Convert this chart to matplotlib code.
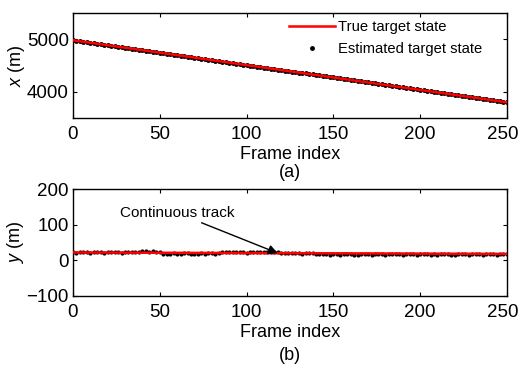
import matplotlib
matplotlib.use("Agg")
import matplotlib.pyplot as plt
from matplotlib.transforms import ScaledTranslation

plt.rcParams['font.family'] = ['Liberation Sans', 'DejaVu Sans']
plt.rcParams['mathtext.fontset'] = 'custom'
plt.rcParams['mathtext.it'] = 'Liberation Sans:italic'
plt.rcParams['mathtext.rm'] = 'Liberation Sans'

# True target state (constant-velocity track endpoints)
true_frames = [0, 250]
true_x = [4980, 3800]
true_y = [22, 18]

# Estimated target state, every 2 frames
est_frames = list(range(0, 251, 2))
est_x = [4980, 4972, 4960, 4953, 4941, 4934, 4922, 4915, 4903, 4896,
         4885, 4877, 4866, 4858, 4847, 4839, 4828, 4821, 4809, 4802,
         4790, 4783, 4771, 4764, 4752, 4745, 4734, 4726, 4715, 4707,
         4696, 4688, 4677, 4669, 4658, 4651, 4639, 4632, 4620, 4613,
         4601, 4594, 4583, 4575, 4564, 4556, 4545, 4537, 4526, 4518,
         4507, 4500, 4488, 4481, 4469, 4462, 4450, 4443, 4431, 4424,
         4413, 4405, 4394, 4386, 4375, 4367, 4356, 4349, 4337, 4330,
         4318, 4311, 4299, 4292, 4280, 4273, 4262, 4254, 4243, 4235,
         4224, 4216, 4205, 4197, 4186, 4179, 4167, 4160, 4148, 4141,
         4129, 4122, 4111, 4103, 4092, 4084, 4073, 4065, 4054, 4046,
         4035, 4028, 4016, 4009, 3997, 3990, 3978, 3971, 3960, 3952,
         3941, 3933, 3922, 3914, 3903, 3895, 3884, 3877, 3865, 3858,
         3846, 3839, 3827, 3820, 3808, 3800]
est_y = [22, 21, 23, 22, 22, 21, 22, 23, 22, 21,
         22, 22, 23, 22, 21, 22, 23, 22, 24, 23,
         25, 26, 24, 25, 23, 22,
         19, 18, 19, 20, 19, 19, 20, 20, 19, 18, 19, 20, 19, 20, 20, 19, 20,
         23, 24, 23, 22, 24, 23, 22,
         21, 22, 22, 23, 24, 23, 22, 24, 23, 22, 21, 20, 21,
         20, 21, 20, 19, 20, 21, 20, 19, 18, 17,
         17, 16, 17, 17, 16, 17, 18, 17, 16, 16,
         17, 18, 17, 16, 17, 18, 17, 16, 17, 18,
         19, 17, 16, 17, 18, 17, 16, 17, 18, 17,
         16, 17, 16, 17, 18, 17, 16, 16, 17, 18,
         17, 16, 17, 18, 17, 16, 17, 18, 17, 16,
         17, 18, 19]

x_ticks = [0, 50, 100, 150, 200, 250]
xa_yticks = [4000, 5000]
yb_yticks = [-100, 0, 100, 200]

fig = plt.figure(figsize=(5.21, 3.68), dpi=100)
ax1 = fig.add_axes([0.140, 0.679, 0.833, 0.286])
ax2 = fig.add_axes([0.140, 0.196, 0.833, 0.290])

for ax in (ax1, ax2):
    ax.tick_params(direction='in', top=True, right=True, labelsize=13.5, length=3)
    ax.tick_params(axis='x', pad=6)
    ax.tick_params(axis='y', pad=3)
    ax.set_xticks(x_ticks)
    ax.set_xlim(0, 250)
    for s in ax.spines.values():
        s.set_linewidth(1.0)

ax1.plot(true_frames, true_x, color='red', lw=1.8, label='True target state', zorder=3)
ax1.plot(est_frames, est_x, ls='none', marker='.', ms=5, color='black',
         label='Estimated target state', zorder=2)
ax1.set_ylim(3500, 5500)
ax1.set_yticks(xa_yticks)
ax1.set_ylabel('$x$ (m)', fontsize=13, labelpad=0)
ax1.set_xlabel('Frame index', fontsize=13, labelpad=2)
ax1.legend(loc='upper right', bbox_to_anchor=(0.96, 1.0), frameon=False,
           fontsize=10.6, handlelength=3.1, borderaxespad=0.1,
           labelspacing=0.55, handletextpad=0.2)

ax2.plot(true_frames, true_y, color='red', lw=1.8, zorder=3)
ax2.plot(est_frames, est_y, ls='none', marker='.', ms=4, color='black', zorder=2)
ax2.set_ylim(-100, 200)
ax2.set_yticks(yb_yticks)
ax2.set_ylabel('$y$ (m)', fontsize=13, labelpad=0)
ax2.set_xlabel('Frame index', fontsize=13, labelpad=2)
ax2.annotate('Continuous track', xy=(118, 20), xytext=(27, 133),
             fontsize=11, va='center', ha='left',
             arrowprops=dict(arrowstyle='-|>', color='black', lw=1.0,
                             shrinkA=0, shrinkB=0, mutation_scale=14),
             zorder=4)

# keep the last tick label inside the figure
for ax in (ax1, ax2):
    lbl = ax.get_xticklabels()[-1]
    lbl.set_transform(lbl.get_transform() + ScaledTranslation(-4 / 100, 0, fig.dpi_scale_trans))

cx = 0.140 + 0.833 / 2
fig.text(cx, 1 - 172 / 368, '(a)', ha='center', va='center', fontsize=13)
fig.text(cx, 1 - 355 / 368, '(b)', ha='center', va='center', fontsize=13)

fig.savefig('out.png', dpi=100)
